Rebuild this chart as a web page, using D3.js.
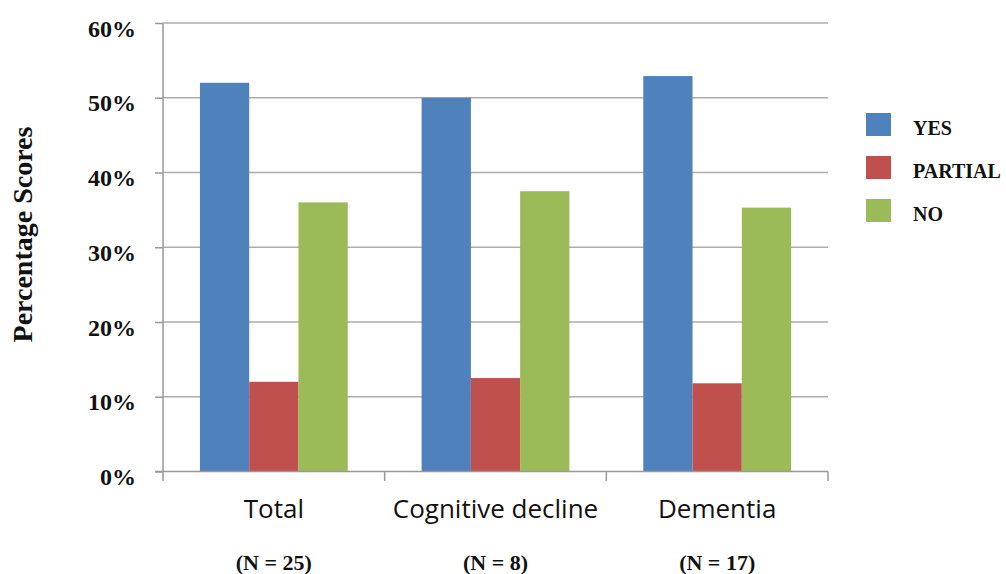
<!DOCTYPE html>
<html>
<head>
<meta charset="utf-8">
<script src="https://cdn.jsdelivr.net/npm/d3@7"></script>
<style>
  html, body { margin: 0; padding: 0; background: #fff; }
  svg { display: block; }
</style>
</head>
<body>
<svg id="chart" width="1006" height="574"></svg>
<script>
const categories = ["Total", "Cognitive decline", "Dementia"];
const sampleLabels = ["(N = 25)", "(N = 8)", "(N = 17)"];
const seriesNames = ["YES", "PARTIAL", "NO"];
const yesValues = [52, 50, 52.9];
const partialValues = [12, 12.5, 11.8];
const noValues = [36, 37.5, 35.3];
const yTicks = [0, 10, 20, 30, 40, 50, 60];
const seriesColors = ["#4F81BD", "#C0504D", "#9BBB59"];

const seriesValues = [yesValues, partialValues, noValues];

const svg = d3.select("#chart");
const mLeft = 163, mRight = 828, mTop = 23, mBottom = 471.5;

const x = d3.scaleBand().domain(categories).range([mLeft, mRight]).paddingInner(0).paddingOuter(0);
const inner = d3.scaleBand().domain(seriesNames).range([0, x.bandwidth()]).paddingInner(0).paddingOuter(0.75);
const y = d3.scaleLinear().domain([0, 60]).range([mBottom, mTop]);

// gridlines
svg.append("g").selectAll("line").data(yTicks.filter(d => d > 0)).join("line")
  .attr("x1", mLeft).attr("x2", mRight)
  .attr("y1", d => y(d)).attr("y2", d => y(d))
  .attr("stroke", "#adadad").attr("stroke-width", 1.5);

// bars
const groups = svg.append("g").selectAll("g").data(categories).join("g")
  .attr("transform", d => `translate(${x(d)},0)`);
groups.selectAll("rect")
  .data((c, i) => seriesNames.map((s, j) => ({ s, v: seriesValues[j][i], c: seriesColors[j] })))
  .join("rect")
  .attr("x", d => inner(d.s))
  .attr("width", inner.bandwidth())
  .attr("y", d => y(d.v))
  .attr("height", d => y(0) - y(d.v))
  .attr("fill", d => d.c);

// y axis
const yAxis = d3.axisLeft(y).tickValues(yTicks).tickSize(8).tickFormat(d => d + "%");
const gy = svg.append("g").attr("transform", `translate(${mLeft},0)`).call(yAxis);
gy.select(".domain").attr("stroke", "#999").attr("stroke-width", 1.5).attr("d", `M0,${mTop}V${mBottom + 9.5}`);
gy.selectAll(".tick line").attr("stroke", "#999").attr("stroke-width", 1.5);
gy.selectAll(".tick text")
  .attr("x", -27).attr("dy", "0.55em")
  .attr("font-family", "'Liberation Serif', serif").attr("font-weight", "bold")
  .attr("font-size", 24).attr("fill", "#111");

// x axis baseline and category separators
svg.append("line").attr("x1", mLeft - 8).attr("x2", mRight)
  .attr("y1", mBottom).attr("y2", mBottom).attr("stroke", "#999").attr("stroke-width", 1.5);
const sepPositions = categories.map(c => x(c) + x.bandwidth());
svg.append("g").selectAll("line").data(sepPositions).join("line")
  .attr("x1", d => d).attr("x2", d => d)
  .attr("y1", mBottom).attr("y2", mBottom + 9.5)
  .attr("stroke", "#999").attr("stroke-width", 1.5);

// category labels
svg.append("g").selectAll("text").data(categories).join("text")
  .attr("x", d => x(d) + x.bandwidth() / 2)
  .attr("y", 518)
  .attr("text-anchor", "middle")
  .attr("font-family", "'Open Sans', sans-serif")
  .attr("font-size", 26).attr("fill", "#111")
  .text(d => d);

svg.append("g").selectAll("text").data(categories).join("text")
  .attr("x", d => x(d) + x.bandwidth() / 2)
  .attr("y", 570)
  .attr("text-anchor", "middle")
  .attr("font-family", "'Liberation Serif', serif").attr("font-weight", "bold")
  .attr("font-size", 22).attr("fill", "#111")
  .text((d, i) => sampleLabels[i]);

// y axis title
svg.append("text")
  .attr("transform", `translate(32,${(123 + 346) / 2}) rotate(-90)`)
  .attr("text-anchor", "middle")
  .attr("font-family", "'Liberation Serif', serif").attr("font-weight", "bold")
  .attr("font-size", 28).attr("fill", "#111")
  .text("Percentage Scores");

// legend
const legend = svg.append("g").selectAll("g").data(seriesNames).join("g")
  .attr("transform", (d, i) => `translate(866,${113 + i * 43})`);
legend.append("rect").attr("width", 25).attr("height", 23)
  .attr("fill", (d, i) => seriesColors[i]);
legend.append("text").attr("x", 47).attr("y", 22)
  .attr("font-family", "'Liberation Serif', serif").attr("font-weight", "bold")
  .attr("font-size", 20).attr("fill", "#111")
  .text(d => d);
</script>
</body>
</html>
